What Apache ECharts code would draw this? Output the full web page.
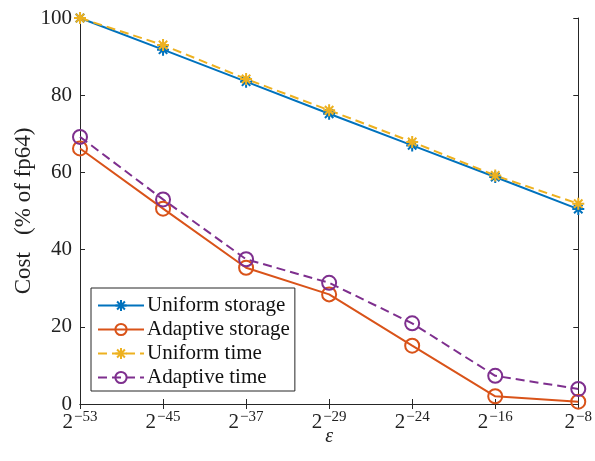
<!DOCTYPE html>
<html>
<head>
<meta charset="utf-8">
<script src="https://cdn.jsdelivr.net/npm/echarts@6/dist/echarts.min.js"></script>
<style>
html,body{margin:0;padding:0;background:#fff;}
#main{width:595px;height:461px;}
</style>
</head>
<body>
<div id="main"></div>
<script>
/* data */
var epsExp = ['-53', '-45', '-37', '-29', '-24', '-16', '-8'];
var uniformStorage = [100, 91.8, 83.5, 75.2, 67.0, 58.8, 50.5];
var adaptiveStorage = [66.2, 50.6, 35.3, 28.4, 15.1, 2.0, 0.6];
var uniformTime = [100, 93.0, 84.2, 76.1, 67.9, 59.2, 51.9];
var adaptiveTime = [69.2, 53.0, 37.5, 31.4, 20.9, 7.3, 3.9];
var yTicks = [0, 20, 40, 60, 80, 100];

var serif = 'Liberation Serif';
var axisColor = '#262626';
var star = 'path://M0,-10L0,10M-10,0L10,0M-7,-7L7,7M-7,7L7,-7';

function lineSeries(name, data, color, dashed, sym){
	var isStar = sym === 'star';
	return {
		name : name,
		type : 'line',
		data : data,
		symbol : isStar ? star : 'circle',
		symbolSize : isStar ? 12 : 14,
		showAllSymbol : true,
		lineStyle : { color : color, width : 2, type : dashed ? [9, 5] : 'solid' },
		itemStyle : {
			color : isStar ? 'none' : 'rgba(0,0,0,0)',
			borderColor : color,
			borderWidth : 2
		},
		emphasis : { disabled : true },
		z : 3
	};
}

var chart = echarts.init(document.getElementById('main'));
var option = {
	animation : false,
	grid : { left : 80, right : 15, top : 18, bottom : 57 },
	legend : {
		left : 91,
		top : 288,
		orient : 'vertical',
		itemWidth : 46,
		itemHeight : 14,
		itemGap : 3,
		padding : [7, 5, 3, 6],
		backgroundColor : '#fff',
		borderColor : axisColor,
		borderWidth : 1,
		borderRadius : 0,
		textStyle : { fontFamily : serif, fontSize : 21, lineHeight : 20, color : '#111', padding : [0, 0, 0, -2] },
		data : ['Uniform storage', 'Adaptive storage', 'Uniform time', 'Adaptive time']
	},
	xAxis : [ {
		type : 'category',
		data : epsExp,
		boundaryGap : false,
		name : 'ε',
		nameLocation : 'middle',
		nameGap : 23,
		nameMoveOverlap : false,
		nameTextStyle : { fontFamily : serif, fontSize : 20, fontStyle : 'italic', color : '#222' },
		axisLine : { lineStyle : { color : axisColor, width : 1 } },
		axisTick : { inside : true, length : 5, alignWithLabel : true, lineStyle : { color : axisColor } },
		axisLabel : {
			margin : 6,
			interval : 0,
			formatter : function(v){ return '{b|2}{s|−' + v.replace('-', '') + '}'; },
			rich : {
				b : { fontFamily : serif, fontSize : 21, color : '#222', verticalAlign : 'bottom' },
				s : { fontFamily : serif, fontSize : 15, color : '#222', verticalAlign : 'bottom', padding : [0, 0, 8, 1] }
			}
		},
		splitLine : { show : false }
	}, {
		type : 'category',
		data : epsExp,
		boundaryGap : false,
		position : 'top',
		axisLine : { lineStyle : { color : axisColor, width : 1 } },
		axisTick : { inside : true, length : 5, lineStyle : { color : axisColor } },
		axisLabel : { show : false },
		splitLine : { show : false }
	} ],
	yAxis : [ {
		type : 'value',
		min : yTicks[0],
		max : yTicks[yTicks.length - 1],
		interval : 20,
		name : 'Cost   (% of fp64)',
		nameLocation : 'middle',
		nameGap : 45,
		nameMoveOverlap : false,
		nameTextStyle : { fontFamily : serif, fontSize : 23, color : '#222' },
		axisLine : { show : true, lineStyle : { color : axisColor, width : 1 } },
		axisTick : { show : true, inside : true, length : 5, lineStyle : { color : axisColor } },
		axisLabel : { fontFamily : serif, fontSize : 21, color : '#222', margin : 8 },
		splitLine : { show : false }
	}, {
		type : 'value',
		min : yTicks[0],
		max : yTicks[yTicks.length - 1],
		interval : 20,
		position : 'right',
		axisLine : { show : true, lineStyle : { color : axisColor, width : 1 } },
		axisTick : { show : true, inside : true, length : 5, lineStyle : { color : axisColor } },
		axisLabel : { show : false },
		splitLine : { show : false }
	} ],
	series : [
		lineSeries('Uniform storage', uniformStorage, '#0072BD', false, 'star'),
		lineSeries('Adaptive storage', adaptiveStorage, '#D95319', false, 'circle'),
		lineSeries('Uniform time', uniformTime, '#EDB120', true, 'star'),
		lineSeries('Adaptive time', adaptiveTime, '#7E2F8E', true, 'circle')
	]
};
chart.setOption(option);
</script>
</body>
</html>
